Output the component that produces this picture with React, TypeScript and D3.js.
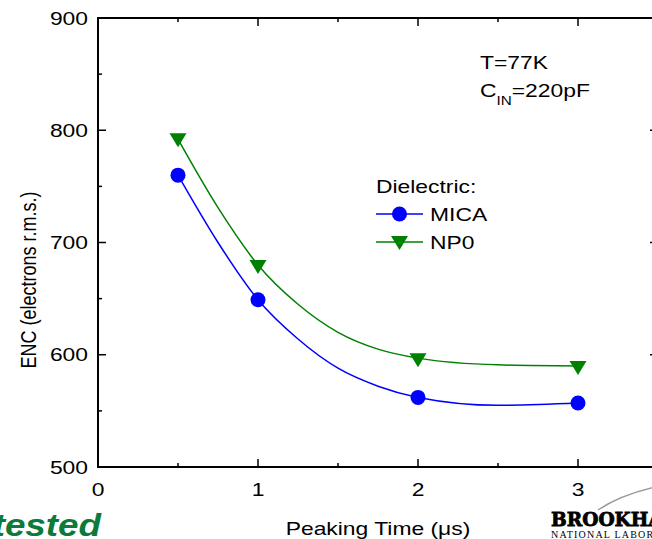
import React from "react";
import * as d3 from "d3";

const peakingTimes = [0.5, 1, 2, 3];
const micaENC = [760, 649, 562, 557];
const np0ENC = [792, 679, 596, 589];

const fitTimes = [0.5, 0.75, 1, 1.25, 1.5, 1.75, 2, 2.5, 3];
const micaFit = [760, 700, 649, 614, 588, 572, 562, 555, 557];
const np0Fit = [792, 731, 680, 645, 620, 605, 597, 591, 590];

const xTicks = [0, 1, 2, 3];
const xMinorTicks = [0.5, 1.5, 2.5, 3.5];
const yTicks = [500, 600, 700, 800, 900];
const yMinorTicks = [550, 650, 750, 850];

const W = 652;
const H = 539;
const SX = 1.27;
const FONT = "'Liberation Sans', Arial, Helvetica, sans-serif";
const BLUE = "#0000ff";
const GREEN = "#008000";

function T({ x, y, anchor = "start", size = 18, children, weight = "normal", style = "normal", fill = "#000", family = FONT, rotate = 0, sx = SX }: any) {
  const tr = rotate
    ? `translate(${x},${y}) rotate(${rotate}) scale(1,${sx})`
    : `translate(${x},${y}) scale(${sx},1)`;
  return (
    <text transform={tr} textAnchor={anchor} fontSize={size} fontFamily={family} fontWeight={weight} fontStyle={style} fill={fill}>
      {children}
    </text>
  );
}

export default function App() {
  const x = d3.scaleLinear().domain([0, 3.5]).range([98, 658]);
  const y = d3.scaleLinear().domain([500, 900]).range([467, 18]);
  const line = d3
    .line<[number, number]>()
    .x((d) => x(d[0]))
    .y((d) => y(d[1]))
    .curve(d3.curveMonotoneX);

  const micaPath = line(fitTimes.map((t, i) => [t, micaFit[i]]))!;
  const np0Path = line(fitTimes.map((t, i) => [t, np0Fit[i]]))!;

  const tri = (cx: number, cy: number) =>
    `M${cx - 8.5},${cy - 6}L${cx + 8.5},${cy - 6}L${cx},${cy + 8}Z`;

  const [x0, x1] = x.range();
  const [y0, y1] = y.range();

  return (
    <svg width={W} height={H} style={{ position: "absolute", left: 0, top: 0, background: "#fff" }}>
      <rect x={0} y={0} width={W} height={H} fill="#fff" />
      {/* frame */}
      <rect x={x0} y={y1} width={x1 - x0} height={y0 - y1} fill="none" stroke="#000" strokeWidth={2} />
      {/* x ticks bottom & top */}
      {xTicks.map((t) => (
        <g key={"xt" + t}>
          <line x1={x(t)} x2={x(t)} y1={y0} y2={y0 - 8} stroke="#000" strokeWidth={1.5} />
          <line x1={x(t)} x2={x(t)} y1={y1} y2={y1 + 8} stroke="#000" strokeWidth={1.5} />
          <T x={x(t)} y={496} anchor="middle">{t}</T>
        </g>
      ))}
      {xMinorTicks.map((t) => (
        <g key={"xm" + t}>
          <line x1={x(t)} x2={x(t)} y1={y0} y2={y0 - 4} stroke="#000" strokeWidth={1.5} />
          <line x1={x(t)} x2={x(t)} y1={y1} y2={y1 + 4} stroke="#000" strokeWidth={1.5} />
        </g>
      ))}
      {yTicks.map((v) => (
        <g key={"yt" + v}>
          <line x1={x0} x2={x0 + 8} y1={y(v)} y2={y(v)} stroke="#000" strokeWidth={1.5} />
          <line x1={x1} x2={x1 - 8} y1={y(v)} y2={y(v)} stroke="#000" strokeWidth={1.5} />
          <T x={88} y={y(v) + 6.5} anchor="end">{v}</T>
        </g>
      ))}
      {yMinorTicks.map((v) => (
        <g key={"ym" + v}>
          <line x1={x0} x2={x0 + 4} y1={y(v)} y2={y(v)} stroke="#000" strokeWidth={1.5} />
          <line x1={x1} x2={x1 - 4} y1={y(v)} y2={y(v)} stroke="#000" strokeWidth={1.5} />
        </g>
      ))}

      {/* axis titles */}
      <T x={378} y={535} anchor="middle">Peaking Time (μs)</T>
      <T x={36} y={280} anchor="middle" rotate={-90}>ENC (electrons r.m.s.)</T>

      {/* curves */}
      <path d={micaPath} fill="none" stroke={BLUE} strokeWidth={1.5} />
      <path d={np0Path} fill="none" stroke={GREEN} strokeWidth={1.5} />
      {peakingTimes.map((t, i) => (
        <circle key={"m" + t} cx={x(t)} cy={y(micaENC[i])} r={7.5} fill={BLUE} />
      ))}
      {peakingTimes.map((t, i) => (
        <path key={"n" + t} d={tri(x(t), y(np0ENC[i]))} fill={GREEN} />
      ))}

      {/* annotation */}
      <T x={480} y={69}>T=77K</T>
      <text transform={`translate(480,97) scale(${SX},1)`} fontSize={18} fontFamily={FONT}>
        C
        <tspan fontSize={12} dy={8}>IN</tspan>
        <tspan dy={-8}>=220pF</tspan>
      </text>

      {/* legend */}
      <T x={376} y={193}>Dielectric:</T>
      <line x1={376} x2={423} y1={214} y2={214} stroke={BLUE} strokeWidth={1.5} />
      <circle cx={399.5} cy={214} r={7.5} fill={BLUE} />
      <T x={430} y={220.5}>MICA</T>
      <line x1={376} x2={423} y1={242} y2={242} stroke={GREEN} strokeWidth={1.5} />
      <path d={tri(399.5, 242)} fill={GREEN} />
      <T x={430} y={248.5}>NP0</T>

      {/* slide decorations */}
      <T x={101} y={536} anchor="end" size={32} weight="bold" style="italic" fill="#0b7a3a" sx={1.15}>tested</T>
      <path d="M598,510 Q622,494 660,486" fill="none" stroke="#999" strokeWidth={1.5} />
      <text x={551} y={526} fontSize={19} fontWeight="900" stroke="#000" strokeWidth={0.8} fontFamily="'DejaVu Serif', 'Liberation Serif', serif" fill="#000" transform="translate(551,0) scale(0.98,1) translate(-551,0)">BROOKHAVEN</text>
      <text x={551} y={538} fontSize={10} letterSpacing={1.2} fontFamily="'Liberation Serif', 'DejaVu Serif', serif" fill="#000">NATIONAL LABORATORY</text>
    </svg>
  );
}
